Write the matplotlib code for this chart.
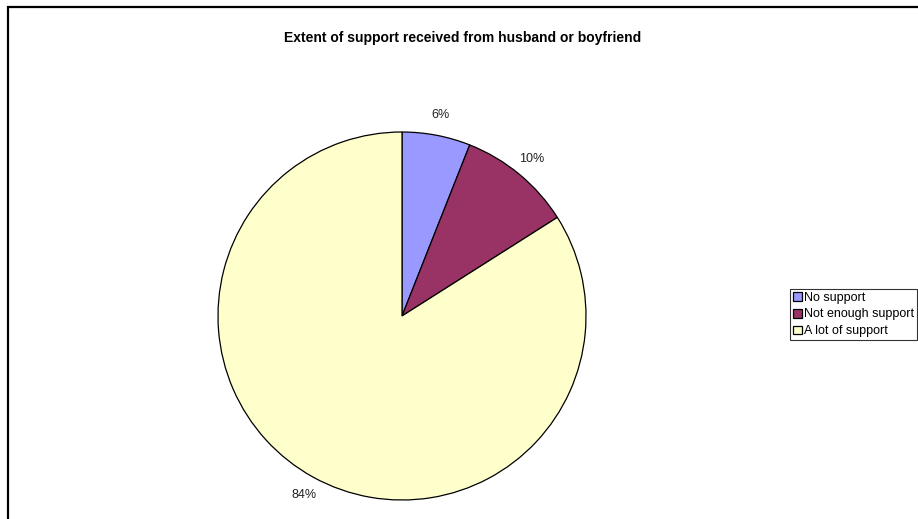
import matplotlib.pyplot as plt
from matplotlib.patches import Rectangle

plt.rcParams['font.family'] = ['Liberation Sans', 'DejaVu Sans']

labels = ['No support', 'Not enough support', 'A lot of support']
shares = [6, 10, 84]
colors = ['#9999FF', '#993366', '#FFFFCC']

W, H = 918, 519
fig = plt.figure(figsize=(W / 100, H / 100), dpi=100)

# axes in pixel units, y measured upward
ax = fig.add_axes([0, 0, 1, 1])
ax.set_xlim(0, W)
ax.set_ylim(0, H)
ax.set_aspect('equal')
ax.axis('off')

wedges, _, pcts = ax.pie(
    shares, colors=colors, startangle=90, counterclock=False,
    center=(402, H - 316), radius=184, autopct='%d%%', pctdistance=1.11,
    wedgeprops=dict(edgecolor='black', linewidth=0.9),
    textprops=dict(fontsize=9, color='#222222'))
ax.set_xlim(0, W)
ax.set_ylim(0, H)

fig.text(463 / W, 1 - 38 / H, 'Extent of support received from husband or boyfriend',
         ha='center', va='center', fontsize=10, fontweight='bold')

leg = fig.legend(wedges, labels, loc='upper left',
                 bbox_to_anchor=(790 / W, 1 - 289 / H),
                 fontsize=9, frameon=True, fancybox=False, shadow=False,
                 handlelength=0.7, handleheight=0.7, handletextpad=0.2,
                 labelspacing=0.38, borderpad=0.22, borderaxespad=0)
leg.get_frame().set_edgecolor('black')
leg.get_frame().set_linewidth(0.8)

# chart area border
fig.patches.append(Rectangle((7.5 / W, -0.1), 1.2, 1 - 7 / H + 0.1,
                             transform=fig.transFigure, fill=False,
                             edgecolor='black', linewidth=1.6))

fig.savefig('out.png', dpi=100)
